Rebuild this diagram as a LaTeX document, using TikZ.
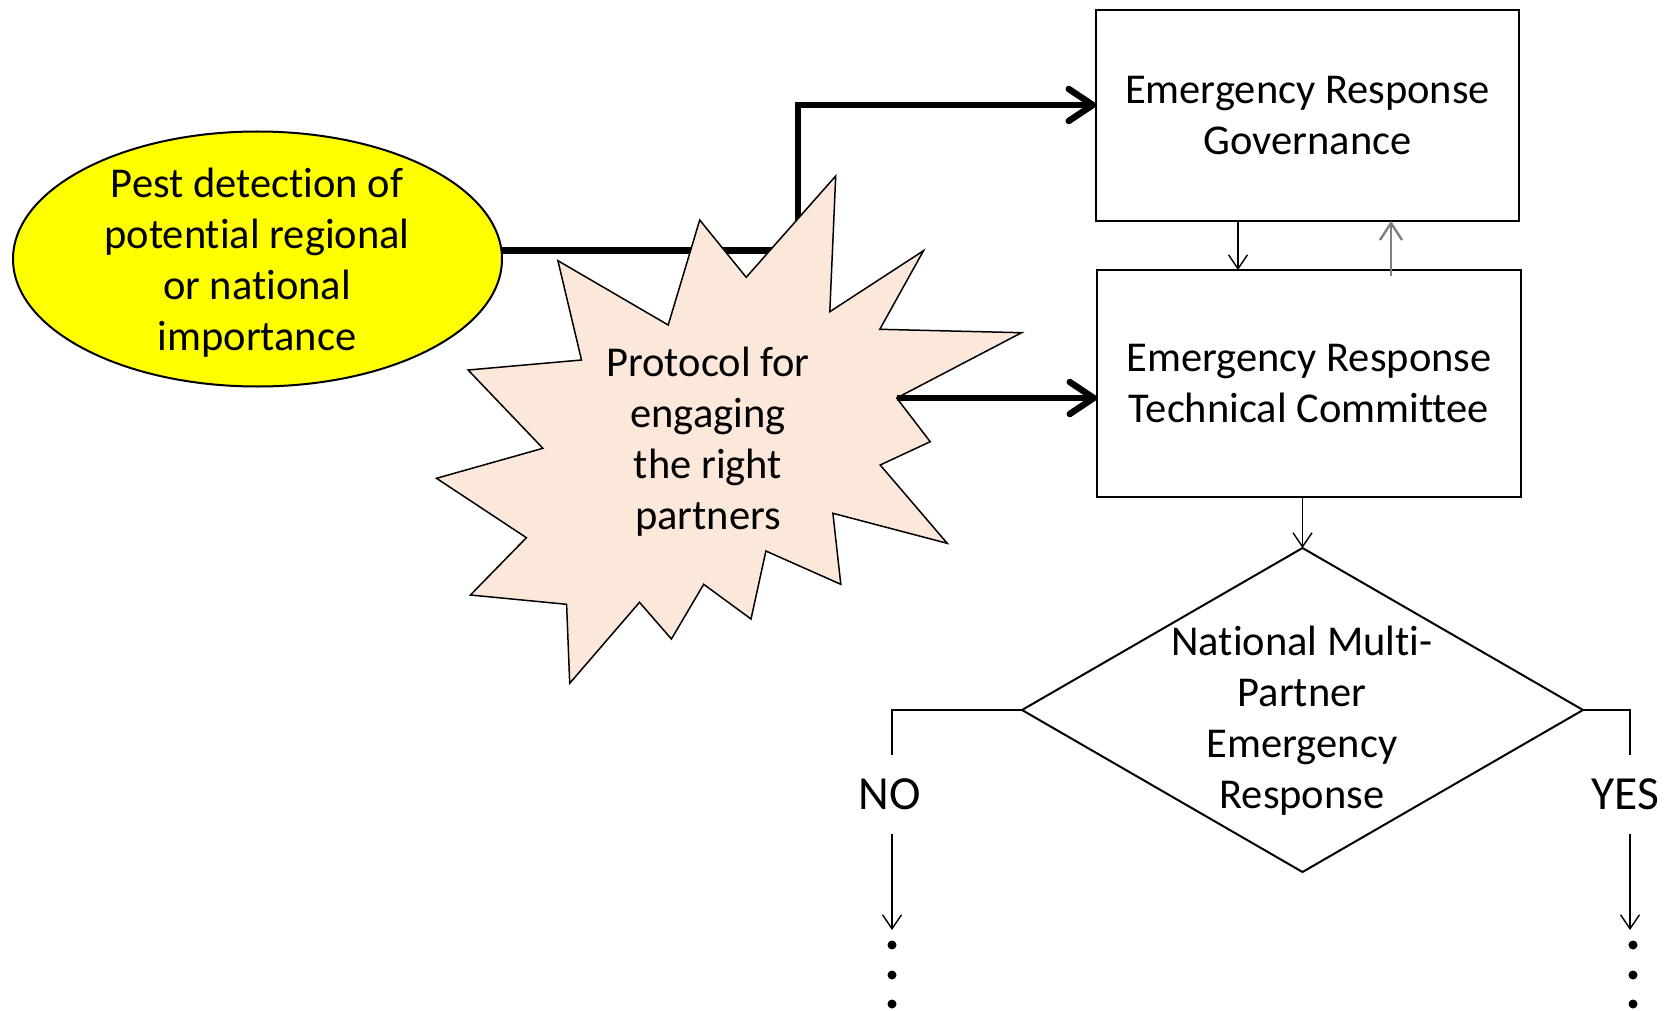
\documentclass[tikz,border=0pt]{standalone}
\usepackage{fontspec}
\setmainfont{Carlito}[Ligatures=NoCommon]
\usetikzlibrary{arrows.meta,shapes.geometric,calc}
\definecolor{peach}{HTML}{FCE8DA}
\definecolor{arrgray}{HTML}{7F7F7F}
\definecolor{pestyellow}{HTML}{FFFF00}
\begin{document}
\begin{tikzpicture}[x=1pt,y=-1pt,
  txt/.style={font=\fontsize{42.5}{51}\selectfont, align=center, inner sep=0pt},
  box/.style={draw, line width=2pt, rectangle, inner sep=0pt, outer sep=0pt,
    font=\fontsize{42.5}{51}\selectfont, align=center},
  thickarrow/.style={line width=6.5pt, -{Straight Barb[length=24pt,width=32pt,round]}},
  thinarrow/.style={line width=1.4pt, -{Straight Barb[length=14pt,width=19pt]}},
  thinline/.style={line width=1.4pt},
  grayarrow/.style={draw=arrgray, line width=2.4pt, -{Straight Barb[length=17pt,width=22pt]}},
  bigtxt/.style={font=\fontsize{47.5}{52}\selectfont, inner sep=0pt, minimum height=79pt},
  dot/.style={circle, fill, inner sep=0pt, minimum size=9pt}
]
\useasboundingbox (0,0) rectangle (1668,1011);

% ellipse
\node[ellipse, draw, line width=2pt, fill=pestyellow, minimum width=489pt,
      minimum height=255pt, inner sep=0pt, outer sep=0pt] (pest) at (257.5,259) {};
\node[txt] (pesttext) at (257,263) {Pest detection of\\potential regional\\or national\\importance};

% boxes
\node[box, minimum width=423pt, minimum height=211pt] (gov) at (1307.5,115.3)
  {Emergency Response\\Governance};
\node[box, minimum width=424pt, minimum height=227pt] (tech) at (1309,383.5)
  {Emergency Response\\Technical Committee};

% decision diamond
\node[diamond, draw, line width=2pt, minimum width=561pt, minimum height=324pt,
      inner sep=0pt, outer sep=0pt] (dec) at (1302.5,710) {};
\node[txt] (dectext) at (1302,721) {National Multi-\\Partner\\Emergency\\Response};

% thick connectors
\coordinate (bend) at (798,0);
\coordinate (govin) at ([yshift=10.3pt]gov.west);
\draw[thickarrow] (pest.2) -| (bend |- govin) -- (govin);

% starburst
\draw[fill=peach, line width=1.5pt, line join=miter]
  (835.7,176) -- (829.8,311.7) -- (923.5,250.7) -- (879.8,329.3) -- (1021.6,332.7)
  -- (896.7,398) -- (930.2,441.7) -- (880.2,465) -- (947.2,543.3) -- (832.9,513.3)
  -- (840.8,584.3) -- (765.9,551) -- (751,619) -- (703.7,584.3) -- (671.4,639)
  -- (639.5,602.3) -- (569.7,683.3) -- (566.6,604.3) -- (470.4,595) -- (526.4,537.7)
  -- (436.5,478.3) -- (542.9,448.3) -- (468.1,370) -- (581.5,360) -- (557.9,260.7)
  -- (668.2,325) -- (699.7,220) -- (746.2,277.3) -- cycle;
\node[txt] (proto) at (708,442) {Protocol for\\engaging\\the right\\partners};
\coordinate (prototip) at (896.7,398);
\draw[thickarrow] (prototip) -- (prototip -| tech.west);

% thin connectors between boxes
\coordinate (gdown) at ([xshift=-69.5pt]gov.south);
\draw[thinarrow] (gdown) -- (gdown |- tech.north);
\coordinate (gup) at ([xshift=83.5pt]gov.south);
\coordinate (tup) at (gup |- tech.north);
\draw[grayarrow] ([yshift=-6pt]tup) -- (gup);
\draw[thinarrow] (dec.north |- tech.south) -- (dec.north);

% NO branch
\node[bigtxt] (no) at (890,794.5) {NO};
\coordinate (nx) at (892,0);
\draw[thinline] (dec.west) -| (nx |- no.north);
\coordinate (noend) at (892,930);
\draw[thinarrow] (nx |- no.south) -- (noend);
\node[dot] (nod1) at (892,945) {};
\node[dot] (nod2) at (892,975) {};
\node[dot] (nod3) at (892,1004) {};

% YES branch
\node[bigtxt] (yes) at (1625,794.5) {YES};
\coordinate (yx) at (1630,0);
\draw[thinline] (dec.east) -| (yx |- yes.north);
\coordinate (yesend) at (1630,930);
\draw[thinarrow] (yx |- yes.south) -- (yesend);
\node[dot] (yd1) at (1633,945) {};
\node[dot] (yd2) at (1633,975) {};
\node[dot] (yd3) at (1633,1004) {};
\end{tikzpicture}
\end{document}
